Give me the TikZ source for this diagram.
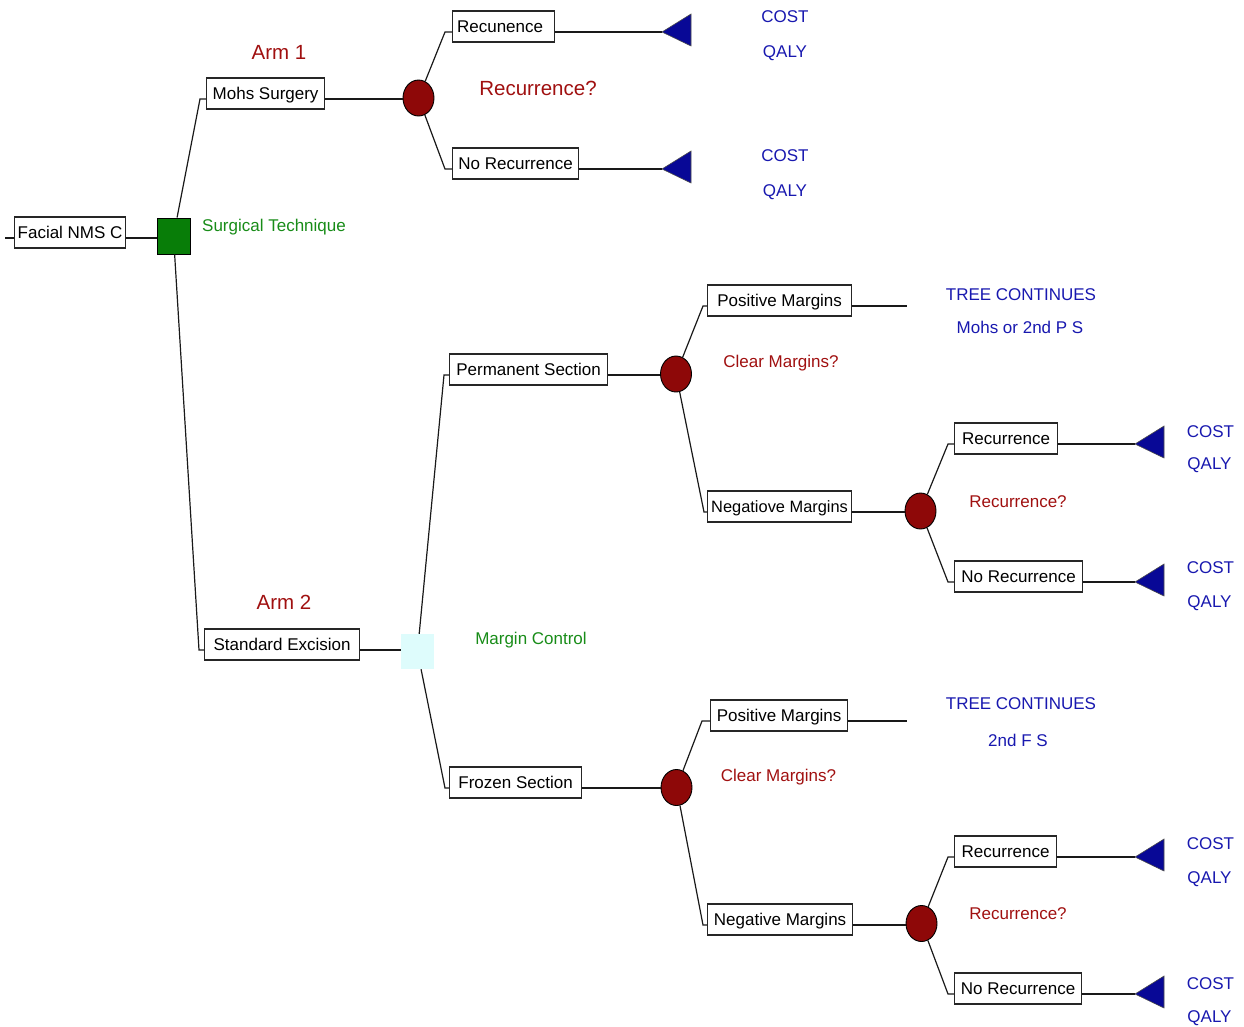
\documentclass[tikz,border=0pt]{standalone}
\usepackage{fontspec}
\setmainfont{Liberation Sans}
\definecolor{chancered}{RGB}{142,8,8}
\definecolor{termblue}{RGB}{8,8,150}
\definecolor{txtblue}{RGB}{24,24,175}
\definecolor{txtred}{RGB}{160,16,16}
\definecolor{decgreen}{RGB}{8,125,8}
\definecolor{txtgreen}{RGB}{24,140,24}
\definecolor{deccyan}{RGB}{222,252,252}
\begin{document}
\begin{tikzpicture}[x=1pt,y=-1pt,
  every node/.style={font=\fontsize{17}{20}\selectfont},
  lbox/.style={draw=black!85,line width=1.2pt,fill=white,anchor=base west,
     inner xsep=0pt,inner ysep=7.5pt,text height=13.5pt,text depth=2.5pt,align=center},
  chance/.style={ellipse,draw=black,line width=0.9pt,fill=chancered,minimum width=31pt,minimum height=36pt,inner sep=0pt},
  decsq/.style={rectangle,draw=black,line width=0.9pt,fill=decgreen,minimum width=33pt,minimum height=36pt,inner sep=0pt},
  decsqb/.style={rectangle,fill=deccyan,minimum width=33pt,minimum height=35pt,inner sep=0pt},
  redlbl/.style={text=txtred,anchor=base,inner sep=0pt},
  biglbl/.style={text=txtred,anchor=base,inner sep=0pt,font=\fontsize{20.5}{24}\selectfont},
  greenlbl/.style={text=txtgreen,anchor=base,inner sep=0pt},
  bluelbl/.style={text=txtblue,anchor=base,inner sep=0pt},
  conn/.style={draw=black!90,line width=1.2pt},
  termtri/.style={fill=termblue,draw=black!70,line width=0.6pt}
]
\useasboundingbox (0,0) rectangle (1244,1026);
\usetikzlibrary{shapes.geometric}

% ---------- nodes ----------
\node[lbox,minimum width=111pt] (facial) at (14,238) {Facial NMS C};
\node[decsq] (sq1) at (173.5,236) {};

\node[lbox,minimum width=118pt] (mohs) at (206,99) {Mohs Surgery};
\node[chance] (c1) at (418.5,98) {};
\node[lbox,minimum width=102pt] (recun) at (452,32) {Recunence\hspace*{7pt}};
\node[lbox,minimum width=126pt] (norec1) at (452,169) {No Recurrence};
\coordinate (t1) at (662,32);
\coordinate (t2) at (662,169);

\node[lbox,minimum width=155pt] (std) at (204,650) {Standard Excision};
\node[decsqb] (sq2) at (417.5,651.5) {};

\node[lbox,minimum width=158pt] (perm) at (449,375) {Permanent Section};
\node[chance] (c2) at (676,374) {};
\node[lbox,minimum width=144pt] (pos1) at (707,306) {Positive Margins};
\coordinate (e1) at (907,306);
\node[lbox,minimum width=144pt,font=\fontsize{16.4}{20}\selectfont] (neg1) at (707,512) {Negatiove Margins};
\node[chance] (c3) at (920.5,511) {};
\node[lbox,minimum width=103pt] (rec2) at (954,444) {Recurrence};
\node[lbox,minimum width=128pt] (norec2) at (954,582) {No Recurrence};
\coordinate (t3) at (1135,444);
\coordinate (t4) at (1135,582);

\node[lbox,minimum width=132pt] (frozen) at (449,788) {Frozen Section};
\node[chance] (c4) at (676.5,787.5) {};
\node[lbox,minimum width=137pt] (pos2) at (710,721) {Positive Margins};
\coordinate (e2) at (907,721);
\node[lbox,minimum width=145pt] (neg2) at (707,925) {Negative Margins};
\node[chance] (c5) at (921.5,923.5) {};
\node[lbox,minimum width=102pt] (rec3) at (954,857) {Recurrence};
\node[lbox,minimum width=127pt] (norec3) at (954,994) {No Recurrence};
\coordinate (t5) at (1135,857);
\coordinate (t6) at (1135,994);

% ---------- terminal triangles ----------
\foreach \t in {t1,t2,t3,t4,t5,t6}
  \draw[termtri] (\t) -- ++(29,-18) -- ++(0,32) -- cycle;

% ---------- connectors ----------
\draw[conn] (facial.base west) -- ++(-9,0);
\draw[conn] (facial.base east) -- (facial.base east -| sq1.west);
\draw[conn] (mohs.base west) -- ++(-6,0) -- (sq1);
\draw[conn] (std.base west) -- ++(-5,0) -- (sq1);
\draw[conn] (mohs.base east) -- (mohs.base east -| c1.west);
\draw[conn] (recun.base west) -- ++(-7,0) -- (c1);
\draw[conn] (norec1.base west) -- ++(-7,0) -- (c1);
\draw[conn] (recun.base east) -- (t1);
\draw[conn] (norec1.base east) -- (t2);

\draw[conn] (std.base east) -- (std.base east -| sq2.west);
\draw[conn] (perm.base west) -- ++(-5,0) -- (sq2);
\draw[conn] (frozen.base west) -- ++(-4,0) -- (sq2);

\draw[conn] (perm.base east) -- (perm.base east -| c2.west);
\draw[conn] (pos1.base west) -- ++(-4,0) -- (c2);
\draw[conn] (neg1.base west) -- ++(-3,0) -- (c2);
\draw[conn] (pos1.base east) -- (e1);
\draw[conn] (neg1.base east) -- (neg1.base east -| c3.west);
\draw[conn] (rec2.base west) -- ++(-6,0) -- (c3);
\draw[conn] (norec2.base west) -- ++(-6,0) -- (c3);
\draw[conn] (rec2.base east) -- (t3);
\draw[conn] (norec2.base east) -- (t4);

\draw[conn] (frozen.base east) -- (frozen.base east -| c4.west);
\draw[conn] (pos2.base west) -- ++(-8,0) -- (c4);
\draw[conn] (neg2.base west) -- ++(-4,0) -- (c4);
\draw[conn] (pos2.base east) -- (e2);
\draw[conn] (neg2.base east) -- (neg2.base east -| c5.west);
\draw[conn] (rec3.base west) -- ++(-6,0) -- (c5);
\draw[conn] (norec3.base west) -- ++(-6,0) -- (c5);
\draw[conn] (rec3.base east) -- (t5);
\draw[conn] (norec3.base east) -- (t6);

% ---------- labels ----------
\node[biglbl] (arm1) at (279,59) {Arm 1};
\node[biglbl] (rq1) at (538,95) {Recurrence?};
\node[greenlbl] (st) at (274,231) {Surgical Technique};
\node[bluelbl] (cost1) at (785,22) {COST};
\node[bluelbl] (qaly1) at (785,57) {QALY};
\node[bluelbl] (cost2) at (785,161) {COST};
\node[bluelbl] (qaly2) at (785,196) {QALY};

\node[biglbl] (arm2) at (284,609) {Arm 2};
\node[greenlbl] (mc) at (531,644) {Margin Control};

\node[redlbl] (cm1) at (781,367) {Clear Margins?};
\node[bluelbl] (tc1) at (1021,300) {TREE CONTINUES};
\node[bluelbl] (mp) at (1020,333) {Mohs or 2nd P S};
\node[redlbl] (rq2) at (1018,507) {Recurrence?};
\node[bluelbl] (cost3) at (1210.5,437) {COST};
\node[bluelbl] (qaly3) at (1209.5,469) {QALY};
\node[bluelbl] (cost4) at (1210.5,573) {COST};
\node[bluelbl] (qaly4) at (1209.5,607) {QALY};

\node[redlbl] (cm2) at (778.5,781) {Clear Margins?};
\node[bluelbl] (tc2) at (1021,709) {TREE CONTINUES};
\node[bluelbl] (fs) at (1018,746) {2nd F S};
\node[redlbl] (rq3) at (1018,919) {Recurrence?};
\node[bluelbl] (cost5) at (1210.5,849) {COST};
\node[bluelbl] (qaly5) at (1209.5,883) {QALY};
\node[bluelbl] (cost6) at (1210.5,989) {COST};
\node[bluelbl] (qaly6) at (1209.5,1022) {QALY};
\end{tikzpicture}
\end{document}
